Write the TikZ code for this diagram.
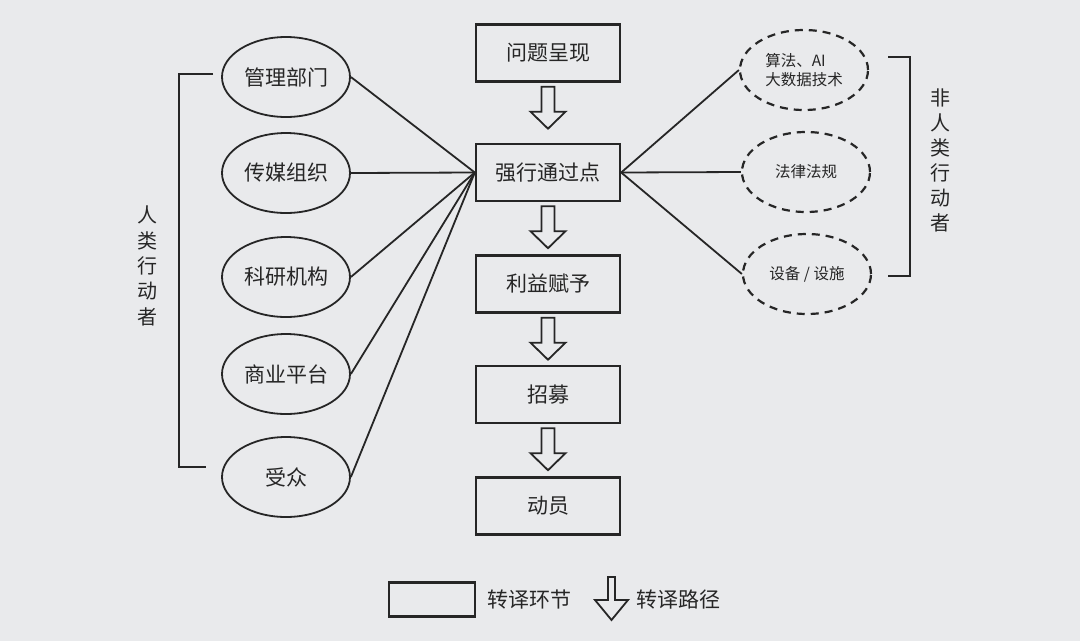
\documentclass[tikz,border=0pt]{standalone}
\usepackage{fontspec}
\setmainfont{Noto Sans CJK SC}
\usepackage{tikz}
\usetikzlibrary{positioning,shapes.geometric}
\definecolor{myBack}{HTML}{E9EAEC}
\definecolor{myInk}{HTML}{262626}
\tikzset{
    actor/.style={draw=myInk,line width=1.8pt,ellipse,minimum width=128pt,minimum height=80pt,inner sep=0pt},
    thing/.style={actor,dash pattern=on 8pt off 6pt,line width=2.2pt,font=\fontsize{15.5}{19}\selectfont},
    stage/.style={draw=myInk,line width=2.4pt,minimum width=144pt,minimum height=57pt,inner sep=0pt},
    link/.style={draw=myInk,line width=1.8pt},
}
% hollow arrow below a stage box
\newcommand{\stepArrow}[1]{%
    \draw[myInk,line width=1.8pt,fill=myBack,shift={(#1.south)}]
        (-6.5,4) -- (-6.5,29) -- (-17.5,29) -- (0,46) -- (17.5,29) -- (6.5,29) -- (6.5,4) -- cycle;
}

\begin{document}
\begin{tikzpicture}[%
        x=1pt,y=-1pt,
        every node/.style={
            text=myInk,
            font=\fontsize{21}{25}\selectfont,
        },
    ]
    % background and size
    \fill[myBack] (0,0) rectangle (1080,641);
    \useasboundingbox (0,0) rectangle (1080,641);

    % stages in the middle
    \node[stage] (show) at (548,53) {问题呈现};
    \node[stage] (pass) at (548,172.5) {强行通过点};
    \node[stage] (gain) at (548,284) {利益赋予};
    \node[stage] (enrol) at (548,394.5) {招募};
    \node[stage] (mobil) at (548,506) {动员};

    % arrows between stages
    \stepArrow{show}
    \stepArrow{pass}
    \stepArrow{gain}
    \stepArrow{enrol}

    % human actors
    \node[actor] (admin) at (286,77) {管理部门};
    \node[actor] (media) at (286,173) {传媒组织};
    \node[actor] (lab) at (286,277) {科研机构};
    \node[actor] (biz) at (286,374) {商业平台};
    \node[actor] (crowd) at (286,477) {受众};
    \foreach \a in {admin,media,lab,biz,crowd}{
        \draw[link] (\a.east) -- (pass.west);
    }

    % non-human actors
    \node[thing,align=left] (algo) at (804,70) {算法、AI\\大数据技术};
    \node[thing] (law) at (806,172) {法律法规};
    \node[thing] (infra) at (807,274) {设备 / 设施};
    \foreach \b in {algo,law,infra}{
        \draw[link] (pass.east) -- (\b.west);
    }

    % brackets and their labels
    \draw[link] (213,74) -- (179,74) -- (179,467) -- (206,467);
    \draw[link] (888,57) -- (910,57) -- (910,276) -- (888,276);
    \node[font=\fontsize{20}{25.3}\selectfont,align=center] (humans) at (147,266) {人\\类\\行\\动\\者};
    \node[font=\fontsize{20}{25}\selectfont,align=center] (nonhumans) at (940,160) {非\\人\\类\\行\\动\\者};

    % legend
    \node[stage,minimum width=86pt,minimum height=34pt,line width=2.2pt] (keybox) at (432,599.5) {};
    \node[right=8pt of keybox] (keyboxtext) {转译环节};
    \draw[myInk,line width=1.8pt] (608,577) -- (608,600) -- (595,600) -- (611.5,620) -- (628,600) -- (615,600) -- (615,577) -- cycle;
    \node (keyarrowtext) at (678,600) {转译路径};
\end{tikzpicture}
\end{document}
